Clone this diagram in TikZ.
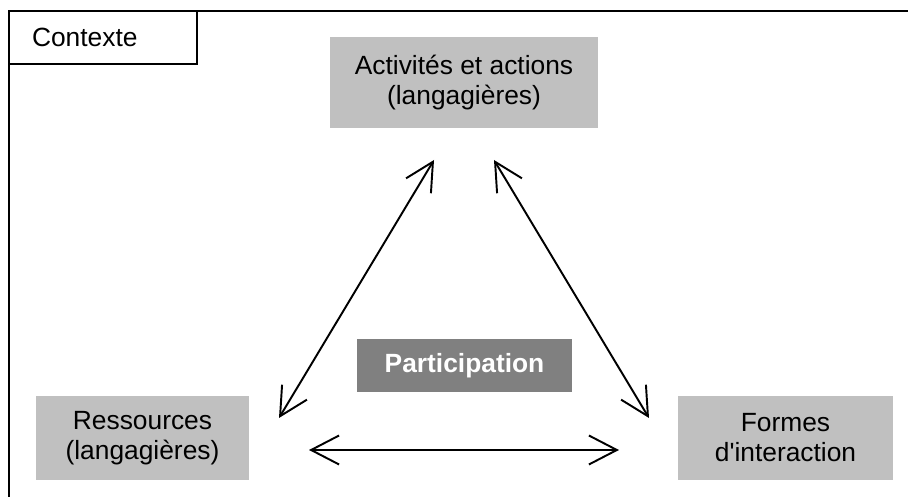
\documentclass[tikz,border=0pt]{standalone}
\usepackage{fontspec}
\setmainfont{Liberation Sans}[Ligatures=TeXOff]
\usetikzlibrary{arrows.meta}
\definecolor{lightbox}{RGB}{192,192,192}
\definecolor{darkbox}{RGB}{128,128,128}

\begin{document}
\begin{tikzpicture}[font=\fontsize{15}{17}\selectfont,
	>={Straight Barb[length=5.6mm,width=5.8mm]},
	frame/.style={line width=1.5pt},
	ctx/.style={draw, line width=1.5pt, anchor=north west, outer sep=0pt, inner xsep=4.6mm, text width=28.4mm, minimum height=10.6mm},
	box/.style={fill=lightbox, align=center, inner sep=0pt, outer sep=0pt, minimum width=43mm, minimum height=16.8mm},
	dark/.style={fill=darkbox, text=white, font=\fontsize{15}{17}\selectfont\bfseries, inner sep=0pt, outer sep=0pt, minimum width=43mm, minimum height=10.6mm},
	link/.style={<->, line width=1.1pt}]
	\useasboundingbox (0,0) rectangle (18.16,9.94);
	\draw[frame] (0.18,0) -- (0.18,9.72) -- (18.16,9.72);

	\node[ctx] 							(ctx) 	at (0.18,9.72) {Contexte};
	\node[box, minimum width=53.6mm, minimum height=18.2mm] (act) at (9.28,8.29) {Activités et actions\\(langagières)};
	\node[dark] 						(part) 	at (9.29,2.63) {Participation};
	\node[box, minimum width=42.6mm] 	(res) 	at (2.85,1.18) {Ressources\\(langagières)};
	\node[box] 							(frm) 	at (15.71,1.18) {Formes\\d'interaction};

	\path[link] ([xshift=-6mm,yshift=-6.4mm]act.south) edge ([xshift=6mm,yshift=-4.4mm]res.north east);
	\path[link] ([xshift=6mm,yshift=-6.4mm]act.south) edge ([xshift=-5.8mm,yshift=-4.4mm]frm.north west);
	\path[link] ([xshift=12mm,yshift=-2.4mm]res.east) edge ([xshift=-11.8mm,yshift=-2.4mm]frm.west);
\end{tikzpicture}
\end{document}
